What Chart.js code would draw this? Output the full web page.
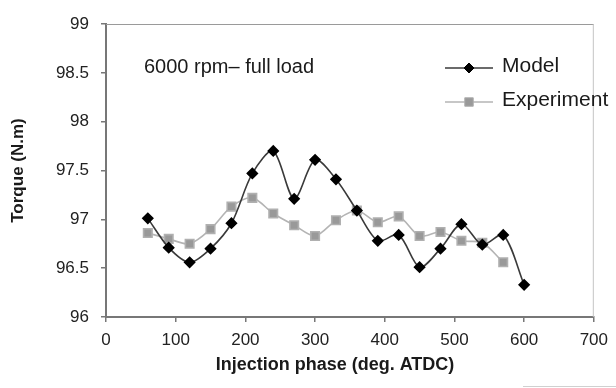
<!DOCTYPE html>
<html>
<head>
<meta charset="utf-8">
<script src="https://cdn.jsdelivr.net/npm/chart.js@4.4.1/dist/chart.umd.min.js"></script>
<style>
  html, body { margin: 0; padding: 0; background: #fff; }
</style>
</head>
<body>
<canvas id="torqueChart" width="616" height="388"></canvas>
<script>
// Injection phase (deg. ATDC) and torque values
const phases = [60, 90, 120, 150, 180, 210, 240, 270, 300, 330, 360, 390, 420, 450, 480, 510, 540, 570, 600];
const modelTorque = [97.01, 96.71, 96.56, 96.70, 96.96, 97.47, 97.70, 97.21, 97.61, 97.41, 97.09, 96.78, 96.84, 96.51, 96.70, 96.95, 96.74, 96.84, 96.33];
const experimentTorque = [96.86, 96.80, 96.75, 96.90, 97.13, 97.22, 97.06, 96.94, 96.83, 96.99, 97.09, 96.97, 97.03, 96.83, 96.87, 96.78, 96.76, 96.56];
const seriesNames = ["Model", "Experiment"];
const noteText = "6000 rpm\u2013 full load";
const xTitle = "Injection phase (deg. ATDC)";
const yTitle = "Torque (N.m)";

const FONT = "'Liberation Sans', Arial, sans-serif";

// pair up x/y for the linear x axis
const toPoints = (vals) => vals.map((v, i) => ({ x: phases[i], y: v }));

// frame: light top and right border of the plot area
const frame = {
  id: "frame",
  beforeDatasetsDraw(chart) {
    const { ctx, chartArea: a } = chart;
    ctx.save();
    ctx.lineWidth = 1;
    ctx.strokeStyle = "#9a9a9a";
    ctx.beginPath();
    ctx.moveTo(a.left, a.top + 0.5);
    ctx.lineTo(a.right, a.top + 0.5);
    ctx.stroke();
    ctx.strokeStyle = "#c4c4c4";
    ctx.beginPath();
    ctx.moveTo(a.right - 0.5, a.top);
    ctx.lineTo(a.right - 0.5, a.bottom);
    ctx.stroke();
    // faint scan edge at the bottom right of the original
    ctx.strokeStyle = "#d0d0d0";
    ctx.beginPath();
    ctx.moveTo(523, 386.5);
    ctx.lineTo(616, 386.5);
    ctx.stroke();
    ctx.restore();
  }
};

// note text, x axis title and the legend floating at the top right
const overlay = {
  id: "overlay",
  afterDatasetsDraw(chart) {
    const { ctx } = chart;
    ctx.save();
    ctx.fillStyle = "#1a1a1a";
    ctx.textBaseline = "middle";
    ctx.font = "20px " + FONT;
    ctx.fillText(noteText, 144, 67);

    ctx.font = "bold 18px " + FONT;
    ctx.textAlign = "center";
    ctx.fillText(xTitle, 335, 365);
    ctx.textAlign = "left";

    const rows = [{ y: 68, x0: 445, x1: 493 }, { y: 102, x0: 445, x1: 493 }];
    chart.data.datasets.forEach((ds, i) => {
      const r = rows[i];
      const mx = (r.x0 + r.x1) / 2;
      ctx.strokeStyle = ds.borderColor;
      ctx.lineWidth = ds.borderWidth;
      ctx.beginPath();
      ctx.moveTo(r.x0, r.y);
      ctx.lineTo(r.x1, r.y);
      ctx.stroke();
      ctx.fillStyle = ds.pointBackgroundColor;
      ctx.strokeStyle = ds.pointBorderColor;
      ctx.lineWidth = 1;
      ctx.beginPath();
      if (ds.pointStyle === "rectRot") {
        const s = ds.pointRadius;
        ctx.moveTo(mx, r.y - s);
        ctx.lineTo(mx + s, r.y);
        ctx.lineTo(mx, r.y + s);
        ctx.lineTo(mx - s, r.y);
        ctx.closePath();
      } else {
        const s = ds.pointRadius * Math.SQRT1_2;
        ctx.rect(mx - s, r.y - s, 2 * s, 2 * s);
      }
      ctx.fill();
      ctx.stroke();
      ctx.fillStyle = "#1a1a1a";
      ctx.font = "21px " + FONT;
      ctx.fillText(ds.label, r.x1 + 9, r.y - 2);
    });
    ctx.restore();
  }
};

new Chart(document.getElementById("torqueChart"), {
  type: "line",
  data: {
    datasets: [
      {
        label: seriesNames[0],
        data: toPoints(modelTorque),
        borderColor: "#3a3a3a",
        borderWidth: 1.6,
        pointStyle: "rectRot",
        pointRadius: 5,
        pointBackgroundColor: "#000",
        pointBorderColor: "#000",
        tension: 0.3
      },
      {
        label: seriesNames[1],
        data: toPoints(experimentTorque),
        borderColor: "#b4b4b4",
        borderWidth: 1.6,
        pointStyle: "rect",
        pointRadius: 6,
        pointBackgroundColor: "#999",
        pointBorderColor: "#b0b0b0",
        tension: 0.3
      }
    ]
  },
  options: {
    responsive: false,
    animation: false,
    devicePixelRatio: 1,
    layout: { padding: { top: 24, right: 20, left: 0, bottom: 0 } },
    plugins: {
      legend: { display: false },
      tooltip: { enabled: false }
    },
    scales: {
      x: {
        type: "linear",
        min: 0,
        max: 700,
        ticks: { stepSize: 100, color: "#222", padding: 8, font: { family: FONT, size: 17 } },
        grid: { drawOnChartArea: false, tickLength: 5, color: "#777", lineWidth: 1.5 },
        border: { color: "#777", width: 2 },
        afterFit: (s) => { s.height = 71; }
      },
      y: {
        min: 96,
        max: 99,
        ticks: {
          stepSize: 0.5,
          color: "#222",
          padding: 12,
          font: { family: FONT, size: 17 },
          callback: (v) => String(v)
        },
        grid: { drawOnChartArea: false, tickLength: 5, color: "#777", lineWidth: 1.5 },
        border: { color: "#777", width: 2 },
        title: {
          display: true,
          text: yTitle,
          color: "#1a1a1a",
          padding: { top: 8, bottom: 0 },
          font: { family: FONT, size: 17, weight: "bold" }
        },
        afterFit: (s) => { s.width = 106; }
      }
    }
  },
  plugins: [frame, overlay]
});
</script>
</body>
</html>
